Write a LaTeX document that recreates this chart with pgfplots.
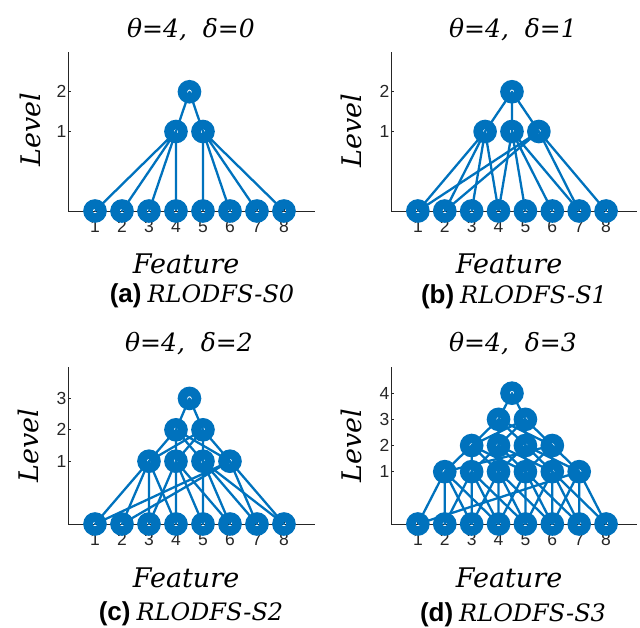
\documentclass[border=0pt]{standalone}
\usepackage{pgfplots}
\pgfplotsset{compat=1.18}
\usepackage{fontspec}
\setmainfont{DejaVu Serif}
\newfontfamily\sansf{Liberation Sans}
\definecolor{mblue}{RGB}{0,114,189}
\definecolor{axgray}{RGB}{38,38,38}
\pgfplotsset{
 tree/.style={
  scale only axis, width=247pt, height=159pt,
  xmin=0, xmax=9.15, ymin=-1,
  axis lines=left, axis line style={-, axgray, line width=0.8pt},
  xtick={1,...,8},
  major tick length=3pt, tick align=inside,
  tick style={axgray, line width=0.8pt},
  tick label style={font=\sansf\fontsize{17.5}{17.5}\selectfont, text=axgray},
  /pgf/number format/assume math mode=true,
  xticklabel style={yshift=-6pt},
  yticklabel style={xshift=2pt},
  clip=false,
  anchor=south west,
 },
 edge/.style={mblue, line width=2.3pt, line join=round, no marks},
 nds/.style={only marks, mark=o, mark size=7pt, mark options={mblue, line width=9.5pt}},
}
\newcommand{\ttl}{\itshape\fontsize{25}{25}\selectfont}
\newcommand{\lbl}{\itshape\fontsize{27}{27}\selectfont}
\newcommand{\subcap}[2]{{\sansf\bfseries\fontsize{26}{26}\selectfont (#1)}\hspace{6pt}{\itshape\fontsize{24}{24}\selectfont #2}}
\begin{document}
\begin{tikzpicture}
\useasboundingbox (0pt,0pt) rectangle (640pt,-627pt);
% ---------- (a)
\begin{axis}[tree, at={(68pt,-211pt)}, ymax=3, ytick={1,2}]
\addplot[edge] coordinates {(1,-1)(4,1)(2,-1)(4,1)(3,-1)(4,1)(4,-1)};
\addplot[edge] coordinates {(5,-1)(5,1)(6,-1)(5,1)(7,-1)(5,1)(8,-1)};
\addplot[edge] coordinates {(4,1)(4.5,2)(5,1)};
\addplot[nds] coordinates {(1,-1)(2,-1)(3,-1)(4,-1)(5,-1)(6,-1)(7,-1)(8,-1)(4,1)(5,1)(4.5,2)};
\end{axis}
% ---------- (b)
\begin{axis}[tree, at={(391pt,-211pt)}, width=246pt, ymax=3, ytick={1,2}]
\addplot[edge] coordinates {(1,-1)(3.5,1)(2,-1)(3.5,1)(3,-1)(3.5,1)(4,-1)};
\addplot[edge] coordinates {(4,-1)(4.5,1)(5,-1)(4.5,1)(6,-1)(4.5,1)(7,-1)};
\addplot[edge] coordinates {(7,-1)(5.5,1)(8,-1)(5.5,1)(1,-1)(5.5,1)(2,-1)};
\addplot[edge] coordinates {(3.5,1)(4.5,2)(4.5,1)(4.5,2)(5.5,1)};
\addplot[nds] coordinates {(1,-1)(2,-1)(3,-1)(4,-1)(5,-1)(6,-1)(7,-1)(8,-1)(3.5,1)(4.5,1)(5.5,1)(4.5,2)};
\end{axis}
% ---------- (c)
\begin{axis}[tree, at={(68pt,-524pt)}, height=157pt, ymax=4, ytick={1,2,3}]
\addplot[edge] coordinates {(1,-1)(3,1)(2,-1)(3,1)(3,-1)(3,1)(4,-1)};
\addplot[edge] coordinates {(3,-1)(4,1)(4,-1)(4,1)(5,-1)(4,1)(6,-1)};
\addplot[edge] coordinates {(5,-1)(5,1)(6,-1)(5,1)(7,-1)(5,1)(8,-1)};
\addplot[edge] coordinates {(7,-1)(6,1)(8,-1)(6,1)(1,-1)(6,1)(2,-1)};
\addplot[edge] coordinates {(3,1)(4,2)(4,1)(4,2)(5,1)(4,2)(6,1)};
\addplot[edge] coordinates {(3,1)(5,2)(4,1)(5,2)(5,1)(5,2)(6,1)};
\addplot[edge] coordinates {(4,2)(4.5,3)(5,2)};
\addplot[nds] coordinates {(1,-1)(2,-1)(3,-1)(4,-1)(5,-1)(6,-1)(7,-1)(8,-1)(3,1)(4,1)(5,1)(6,1)(4,2)(5,2)(4.5,3)};
\end{axis}
% ---------- (d)
\begin{axis}[tree, at={(391pt,-524pt)}, width=246pt, height=157pt, ymax=5, ytick={1,2,3,4}]
\addplot[edge] coordinates {(1,-1)(2,1)(2,-1)(2,1)(3,-1)(2,1)(4,-1)};
\addplot[edge] coordinates {(2,-1)(3,1)(3,-1)(3,1)(4,-1)(3,1)(5,-1)};
\addplot[edge] coordinates {(3,-1)(4,1)(4,-1)(4,1)(5,-1)(4,1)(6,-1)};
\addplot[edge] coordinates {(4,-1)(5,1)(5,-1)(5,1)(6,-1)(5,1)(7,-1)};
\addplot[edge] coordinates {(5,-1)(6,1)(6,-1)(6,1)(7,-1)(6,1)(8,-1)};
\addplot[edge] coordinates {(6,-1)(7,1)(7,-1)(7,1)(8,-1)(7,1)(1,-1)};
\addplot[edge] coordinates {(2,1)(3,2)(3,1)(3,2)(4,1)(3,2)(5,1)};
\addplot[edge] coordinates {(3,1)(4,2)(4,1)(4,2)(5,1)(4,2)(6,1)};
\addplot[edge] coordinates {(4,1)(5,2)(5,1)(5,2)(6,1)(5,2)(7,1)};
\addplot[edge] coordinates {(5,1)(6,2)(6,1)(6,2)(7,1)(6,2)(2,1)};
\addplot[edge] coordinates {(3,2)(4,3)(4,2)(4,3)(5,2)(4,3)(6,2)};
\addplot[edge] coordinates {(3,2)(5,3)(4,2)(5,3)(5,2)(5,3)(6,2)};
\addplot[edge] coordinates {(4,3)(4.5,4)(5,3)};
\addplot[nds] coordinates {(1,-1)(2,-1)(3,-1)(4,-1)(5,-1)(6,-1)(7,-1)(8,-1)(2,1)(3,1)(4,1)(5,1)(6,1)(7,1)(3,2)(4,2)(5,2)(6,2)(4,3)(5,3)(4.5,4)};
\end{axis}
% ---------- texts
\node[anchor=base, font=\ttl] at (191pt,-37pt) {θ=4,\ \ δ=0};
\node[anchor=base, font=\ttl] at (513pt,-37pt) {θ=4,\ \ δ=1};
\node[anchor=base, font=\ttl] at (189pt,-351pt) {θ=4,\ \ δ=2};
\node[anchor=base, font=\ttl] at (513pt,-351pt) {θ=4,\ \ δ=3};
\node[rotate=90, font=\lbl] at (30pt,-130pt) {Level};
\node[rotate=90, font=\lbl] at (351pt,-131pt) {Level};
\node[rotate=90, font=\lbl] at (28pt,-446pt) {Level};
\node[rotate=90, font=\lbl] at (351pt,-446pt) {Level};
\node[anchor=base, font=\lbl] at (186pt,-273pt) {Feature};
\node[anchor=base, font=\lbl] at (509pt,-273pt) {Feature};
\node[anchor=base, font=\lbl] at (186pt,-587pt) {Feature};
\node[anchor=base, font=\lbl] at (509pt,-587pt) {Feature};
\node[anchor=base] at (202pt,-302pt) {\subcap{a}{RLODFS-S0}};
\node[anchor=base] at (514pt,-303pt) {\subcap{b}{RLODFS-S1}};
\node[anchor=base] at (191pt,-620pt) {\subcap{c}{RLODFS-S2}};
\node[anchor=base] at (513pt,-621pt) {\subcap{d}{RLODFS-S3}};
\end{tikzpicture}
\end{document}
